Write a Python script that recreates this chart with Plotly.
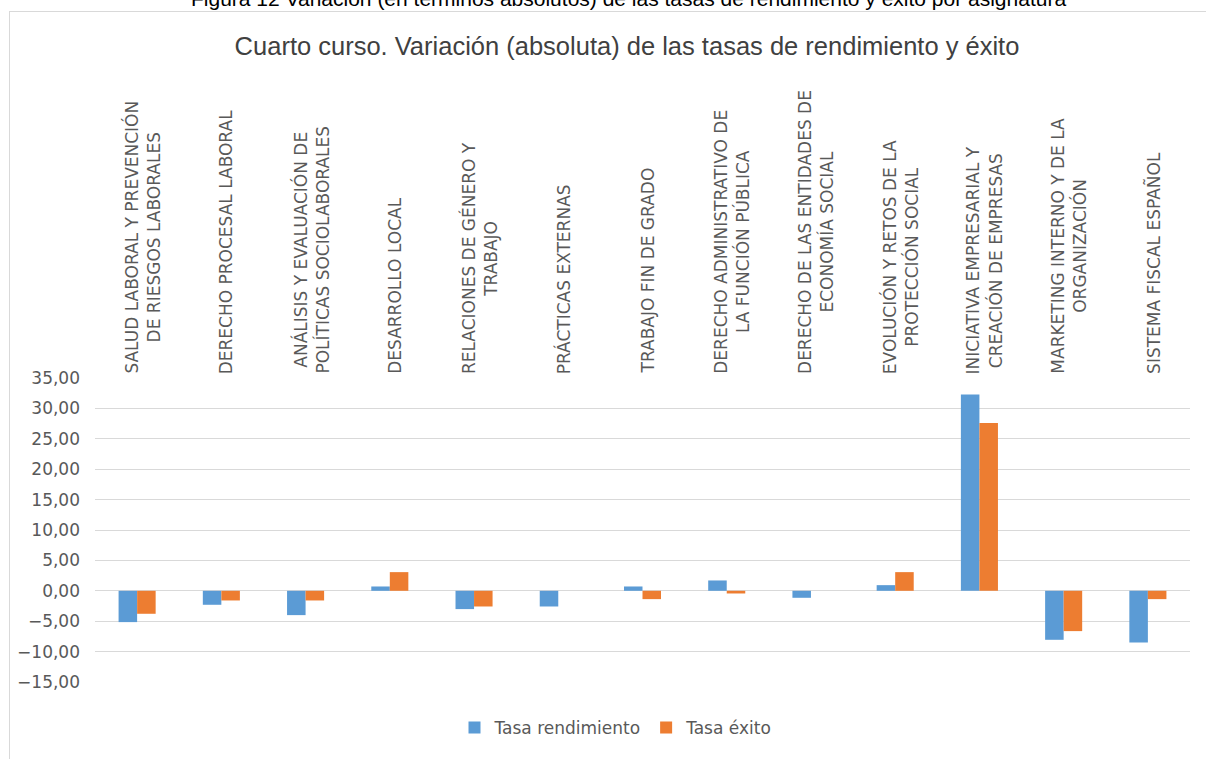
import plotly.graph_objects as go

categories = [
    "SALUD LABORAL Y PREVENCIÓN DE RIESGOS LABORALES",
    "DERECHO PROCESAL LABORAL",
    "ANÁLISIS Y EVALUACIÓN DE POLÍTICAS SOCIOLABORALES",
    "DESARROLLO LOCAL",
    "RELACIONES DE GÉNERO Y TRABAJO",
    "PRÁCTICAS EXTERNAS",
    "TRABAJO FIN DE GRADO",
    "DERECHO ADMINISTRATIVO DE LA FUNCIÓN PÚBLICA",
    "DERECHO DE LAS ENTIDADES DE ECONOMÍA SOCIAL",
    "EVOLUCIÓN Y RETOS DE LA PROTECCIÓN SOCIAL",
    "INICIATIVA EMPRESARIAL Y CREACIÓN DE EMPRESAS",
    "MARKETING INTERNO Y DE LA ORGANIZACIÓN",
    "SISTEMA FISCAL ESPAÑOL",
]
category_labels = [
    "SALUD LABORAL Y PREVENCIÓN<br>DE RIESGOS LABORALES",
    "DERECHO PROCESAL LABORAL",
    "ANÁLISIS Y EVALUACIÓN DE<br>POLÍTICAS SOCIOLABORALES",
    "DESARROLLO LOCAL",
    "RELACIONES DE GÉNERO Y<br>TRABAJO",
    "PRÁCTICAS EXTERNAS",
    "TRABAJO FIN DE GRADO",
    "DERECHO ADMINISTRATIVO DE<br>LA FUNCIÓN PÚBLICA",
    "DERECHO DE LAS ENTIDADES DE<br>ECONOMÍA SOCIAL",
    "EVOLUCIÓN Y RETOS DE LA<br>PROTECCIÓN SOCIAL",
    "INICIATIVA EMPRESARIAL Y<br>CREACIÓN DE EMPRESAS",
    "MARKETING INTERNO Y DE LA<br>ORGANIZACIÓN",
    "SISTEMA FISCAL ESPAÑOL",
]
tasa_rendimiento = [-5.15, -2.30, -4.00, 0.71, -3.01, -2.58, 0.71, 1.70, -1.15, 0.93, 32.30, -8.06, -8.50]
tasa_exito = [-3.78, -1.59, -1.59, 3.07, -2.58, 0.00, -1.37, -0.44, 0.00, 3.07, 27.60, -6.63, -1.37]
y_ticks = [35, 30, 25, 20, 15, 10, 5, 0, -5, -10, -15]

W, H = 1206, 759
L, R, T, B = 95, 16, 378, 77
pw, ph = W - L - R, H - T - B

def px_x(px):
    return (px - L) / pw

def px_y(py):
    return (H - B - py) / ph

FONT = "DejaVu Sans"
NARROW = "Liberation Sans Narrow, Arial Narrow, Liberation Sans"
GREY = "#595959"

fig = go.Figure()
fig.add_trace(go.Bar(name="Tasa rendimiento", x=categories, y=tasa_rendimiento,
                     marker=dict(color="#5B9BD5", line=dict(width=0))))
fig.add_trace(go.Bar(name="Tasa éxito", x=categories, y=tasa_exito,
                     marker=dict(color="#ED7D31", line=dict(width=0))))

annotations = []
for c, lab in zip(categories, category_labels):
    annotations.append(dict(x=c, xref="x", y=1, yref="paper", text=lab, showarrow=False,
                            textangle=-90, xanchor="center", yanchor="bottom", align="center",
                            xshift=5, yshift=2,
                            font=dict(family=FONT, size=17, color=GREY)))
annotations.append(dict(x=px_x(628), xref="paper", y=px_y(12.5), yref="paper", yanchor="bottom",
                        text="Figura 12 Variación (en términos absolutos) de las tasas de rendimiento y éxito por asignatura",
                        showarrow=False, xanchor="center",
                        font=dict(family=NARROW, size=21, color="#000000")))

shapes = [
    dict(type="line", xref="paper", yref="paper", x0=px_x(9), x1=px_x(1206), y0=px_y(11.5), y1=px_y(11.5),
         line=dict(color="#d9d9d9", width=1)),
    dict(type="line", xref="paper", yref="paper", x0=px_x(9.5), x1=px_x(9.5), y0=px_y(11), y1=px_y(759),
         line=dict(color="#d9d9d9", width=1)),
]

fig.update_layout(
    width=W, height=H,
    margin=dict(l=L, r=R, t=T, b=B, autoexpand=False),
    paper_bgcolor="white", plot_bgcolor="white",
    separators=",.",
    barmode="group", bargap=0.56, bargroupgap=0,
    title=dict(text="Cuarto curso. Variación (absoluta) de las tasas de rendimiento y éxito",
               x=627 / W, xanchor="center", y=1 - 46 / H, yanchor="middle", xref="container", yref="container",
               font=dict(family=NARROW, size=25.5, color="#404040")),
    xaxis=dict(side="top", showticklabels=False, showgrid=False, zeroline=False, showline=False, ticks=""),
    yaxis=dict(range=[-15, 35], tickvals=y_ticks, tickformat=".2f", showgrid=True, gridcolor="#d9d9d9",
               gridwidth=1, zeroline=True, zerolinecolor="#d9d9d9", zerolinewidth=1, showline=False,
               ticks="", ticklabelstandoff=14, tickfont=dict(family=FONT, size=17, color=GREY)),
    legend=dict(orientation="h", x=px_x(616), xanchor="center", y=px_y(728), yanchor="middle",
                font=dict(family=FONT, size=17, color=GREY), itemwidth=30, traceorder="normal"),
    annotations=annotations,
    shapes=shapes,
)

fig.write_html("out.html", config={"displayModeBar": False},
               post_script="document.body.style.margin='0';document.body.style.overflow='hidden';")
